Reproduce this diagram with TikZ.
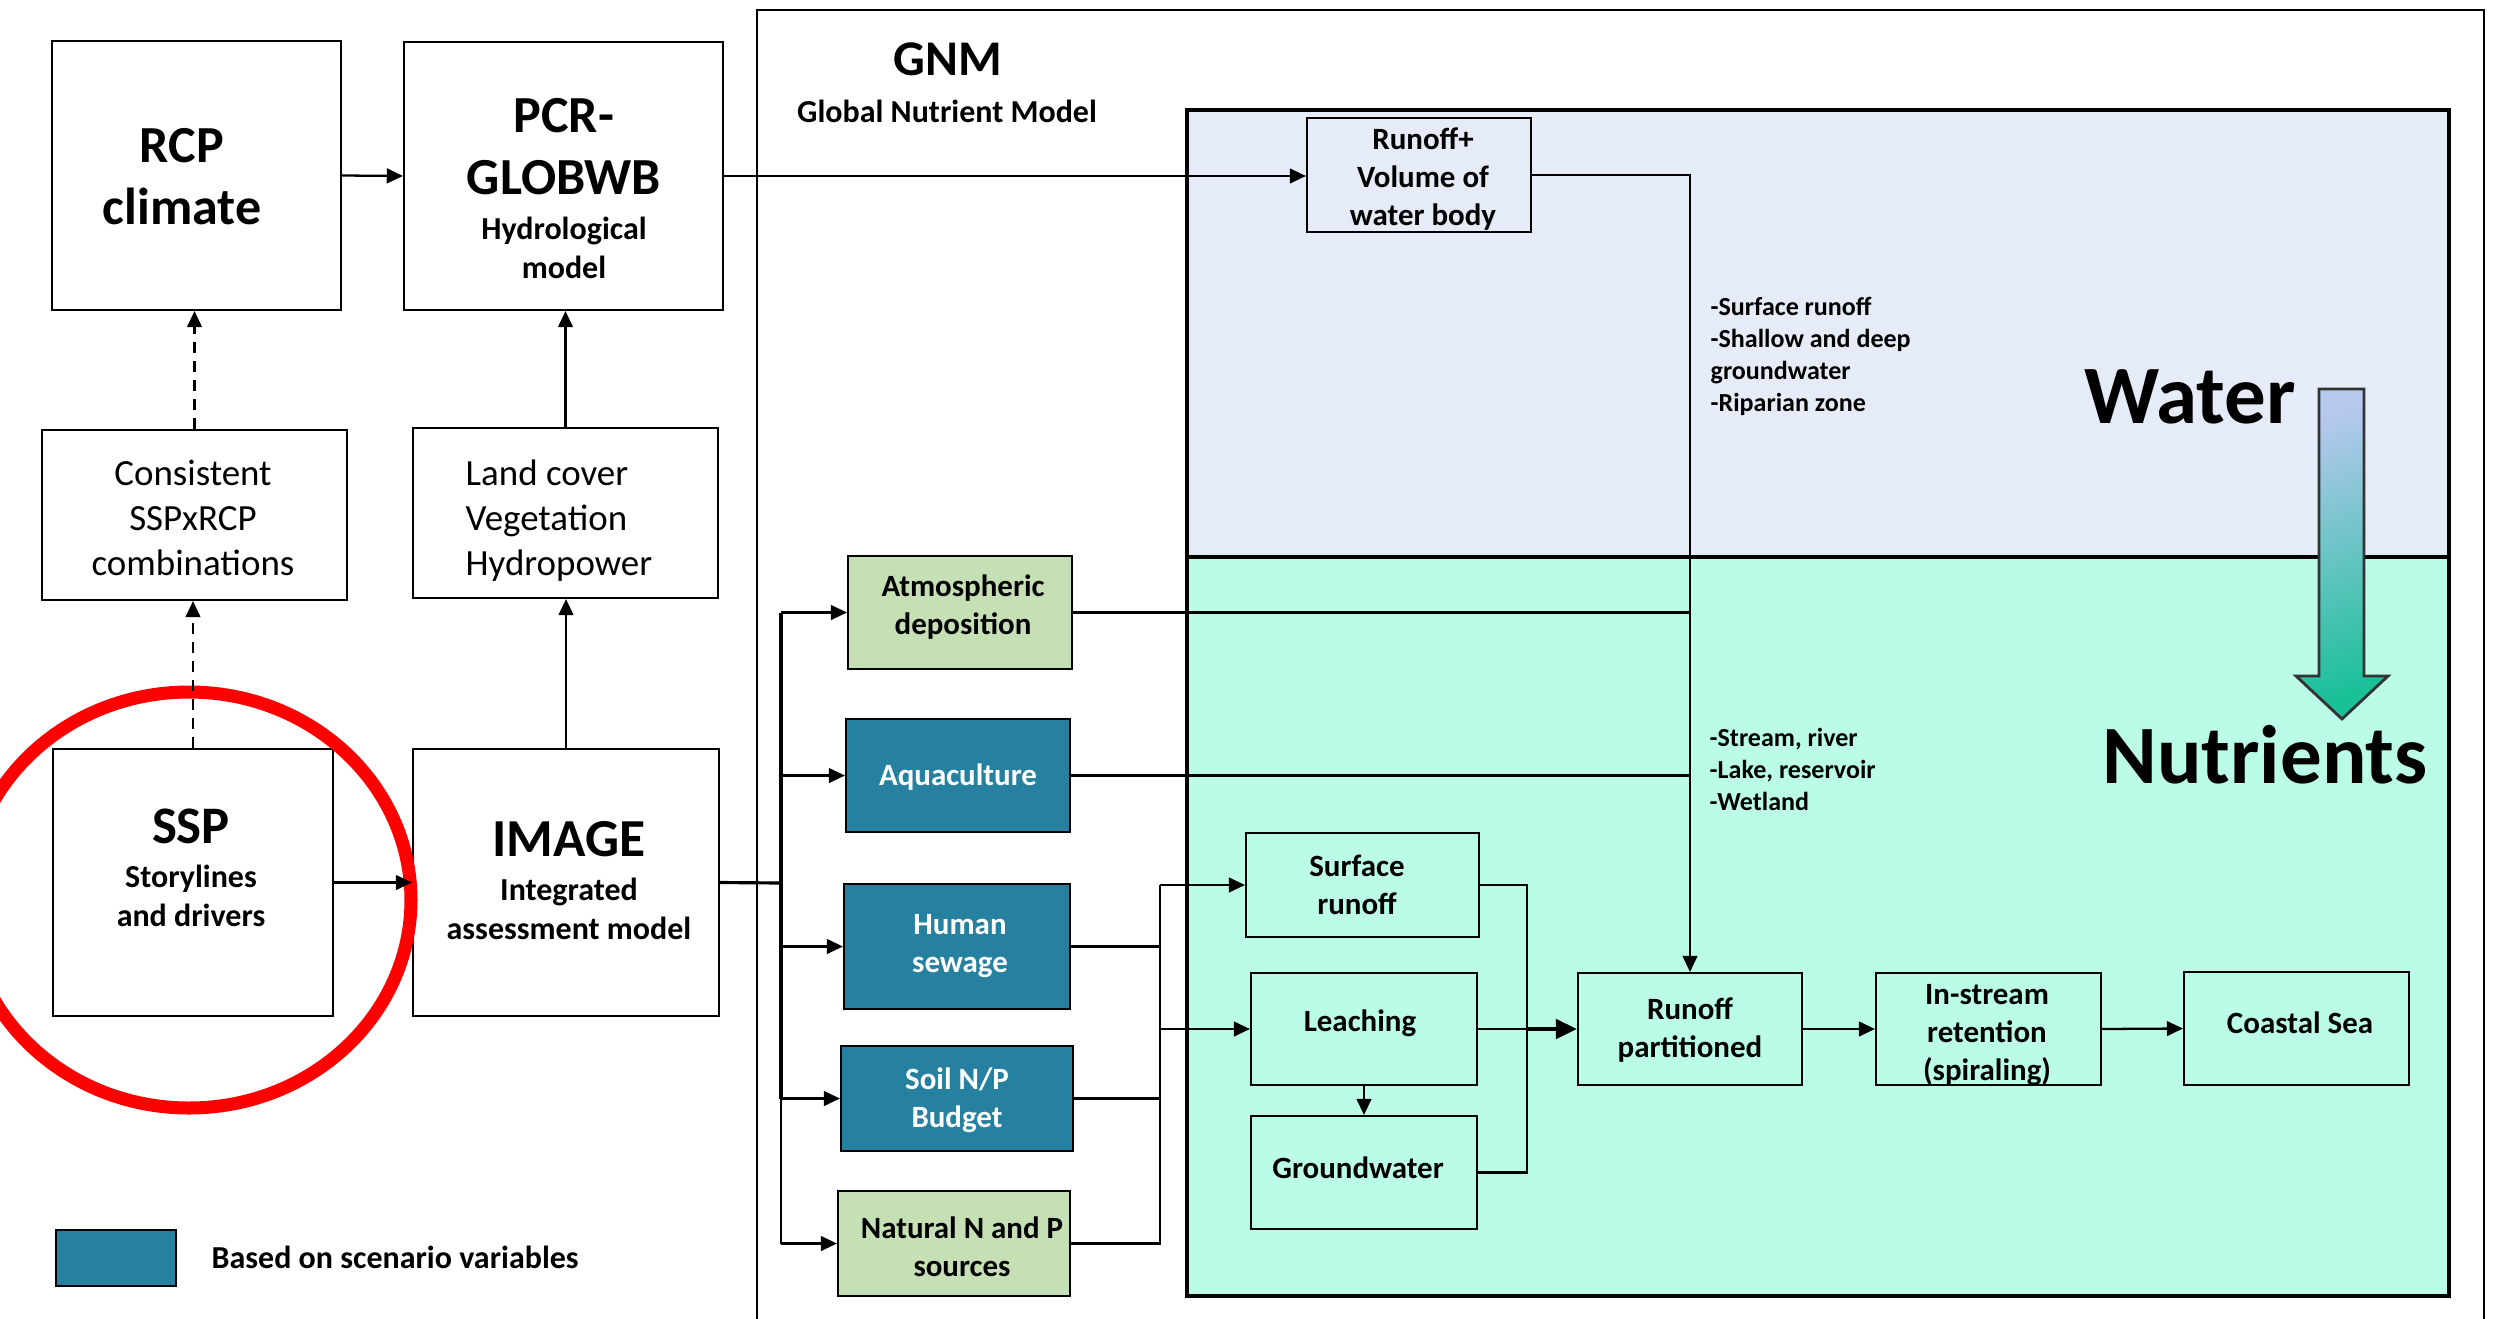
\documentclass[tikz,border=0pt]{standalone}
\usepackage{fontspec}
\setmainfont{Carlito}
\usetikzlibrary{arrows.meta,fit,shadings}
\definecolor{waterbg}{RGB}{230,236,247}
\definecolor{nutbg}{RGB}{186,252,232}
\definecolor{teal}{RGB}{38,129,161}
\definecolor{lgreen}{RGB}{197,224,180}
\definecolor{arrtop}{RGB}{182,200,238}
\definecolor{arrbot}{RGB}{26,192,152}
\begin{document}
\begin{tikzpicture}[x=0.01cm,y=-0.01cm,
  box/.style={draw=black,line width=0.6pt,inner sep=0pt},
  tealbox/.style={box,fill=teal},
  greenbox/.style={box,fill=lgreen},
  region/.style={draw=black,line width=0.9pt},
  conn/.style={line width=0.65pt},
  arr/.style={conn,-{Triangle[length=4.6pt,width=4.2pt]}},
  darr/.style={arr,dash pattern=on 3pt off 2.4pt},
  bigt/.style={font=\bfseries\fontsize{14.8}{17.6}\selectfont,align=center,inner sep=0pt},
  subt/.style={font=\bfseries\fontsize{9.1}{10.9}\selectfont,align=center,inner sep=0pt},
  tb/.style={font=\bfseries\fontsize{8.8}{10.8}\selectfont,align=center,inner sep=0pt},
  regt/.style={font=\fontsize{10.5}{12.8}\selectfont,inner sep=0pt},
  listt/.style={font=\bfseries\fontsize{7.4}{9.1}\selectfont,align=left,inner sep=0pt,anchor=west},
  huget/.style={font=\bfseries\fontsize{23.6}{28}\selectfont,inner sep=0pt,anchor=base}
]
\useasboundingbox (0,0) rectangle (2503,1318);
\clip (0,0) rectangle (2503,1318);

% GNM frame
\draw[line width=0.6pt] (757,1330) -- (757,10) -- (2484,10) -- (2484,1330);
\node[font=\bfseries\fontsize{14.2}{17}\selectfont,inner sep=0pt] (gnm) at (948,59) {GNM};
\node[subt] (gnmsub) at (947,111) {Global Nutrient Model};

% regions
\draw[region,fill=waterbg] (1187,110) rectangle (2449,557);
\draw[region,fill=nutbg] (1187,557) rectangle (2449,1296);
\draw[line width=1.2pt] (1187,557) -- (2449,557);

% left boxes
\node[box,fit={(52,41)(341,310)}] (rcp) {};
\node[bigt] (rcpt) at (182,177) {RCP\\climate};
\node[box,fit={(404,42)(723,310)}] (pcr) {};
\node[bigt] (pcrt) at (564,147) {PCR-\\GLOBWB};
\node[subt] (pcrs) at (564,248) {Hydrological\\model};
\node[box,fit={(42,430)(347,600)}] (cons) {};
\node[regt,align=center] (const) at (193,518) {Consistent\\SSPxRCP\\combinations};
\node[box,fit={(413,428)(718,598)}] (land) {};
\node[regt,align=left,anchor=west] (landt) at (465,521) {Land cover\\Vegetation\\Hydropower};
\node[box,fit={(53,749)(333,1016)}] (ssp) {};
\node[font=\bfseries\fontsize{15}{18}\selectfont,inner sep=0pt] (sspt) at (191,826) {SSP};
\node[subt] (ssps) at (191,896) {Storylines\\and drivers};
\node[box,fit={(413,749)(719,1016)}] (image) {};
\node[font=\bfseries\fontsize{15.2}{18}\selectfont,inner sep=0pt] (imaget) at (569,839) {IMAGE};
\node[subt] (images) at (569,909) {Integrated\\assessment model};

% red circle
\draw[red,line width=3.7pt] (189,900) ellipse [x radius=222, y radius=208];

% legend
\node[tealbox,fit={(56,1230)(176,1286)}] (legbox) {};
\node[subt,anchor=west] (legt) at (211,1257) {Based on scenario variables};

% GNM source boxes
\node[greenbox,fit={(848,556)(1072,669)}] (atmos) {};
\node[tb] (atmost) at (963,607) {Atmospheric\\deposition};
\node[tealbox,fit={(846,719)(1070,832)}] (aqua) {};
\node[tb,text=white] (aquat) at (958,777) {Aquaculture};
\node[tealbox,fit={(844,884)(1070,1009)}] (sewage) {};
\node[tb,text=white] (sewaget) at (960,946) {Human\\sewage};
\node[tealbox,fit={(841,1046)(1073,1151)}] (soil) {};
\node[tb,text=white] (soilt) at (957,1100) {Soil N/P\\Budget};
\node[greenbox,fit={(838,1191)(1070,1296)}] (natural) {};
\node[tb] (naturalt) at (962,1247) {Natural N and P\\sources};

% water / nutrient boxes
\node[box,fit={(1307,118)(1531,232)}] (runoff) {};
\node[tb] (runofft) at (1423,179) {Runoff+\\Volume of\\water body};
\node[box,fit={(1246,833)(1479,937)}] (surface) {};
\node[tb] (surfacet) at (1357,885) {Surface\\runoff};
\node[box,fit={(1251,973)(1477,1085)}] (leaching) {};
\node[tb] (leachingt) at (1360,1023) {Leaching};
\node[box,fit={(1251,1116)(1477,1229)}] (ground) {};
\node[tb] (groundt) at (1358,1168) {Groundwater};
\node[box,fit={(1578,973)(1802,1085)}] (rp) {};
\node[tb] (rpt) at (1690,1030) {Runoff\\partitioned};
\node[box,fit={(1876,973)(2101,1085)}] (instream) {};
\node[tb] (instreamt) at (1987,1035) {In-stream\\retention\\(spiraling)};
\node[box,fit={(2184,972)(2409,1085)}] (coastal) {};
\node[tb] (coastalt) at (2300,1023) {Coastal Sea};

% lists and big labels
\node[listt] (wlist) at (1710,356) {-Surface runoff\\-Shallow and deep\\groundwater\\-Riparian zone};
\node[listt] (nlist) at (1709,769) {-Stream, river\\-Lake, reservoir\\-Wetland};
\node[huget] (watert) at (2190,423) {Water};
\node[huget] (nutt) at (2265,783) {Nutrients};

% gradient arrow
\draw[draw=black!80,line width=0.8pt,top color=arrtop,bottom color=arrbot,shading angle=20]
  (2319,389) -- (2364,389) -- (2364,676) -- (2388,676) -- (2342,719) -- (2296,676) -- (2319,676) -- cycle;

% left connectors
\draw[arr] (rcp.east) -- (pcr.west);
\draw[arr] (ssp.east) -- (image.west);
\draw[darr] (cons.north) -- (cons.north |- rcp.south);
\draw[darr] (ssp.north) -- (ssp.north |- cons.south);
\draw[arr] (land.north) -- (land.north |- pcr.south);
\draw[arr] (image.north) -- (image.north |- land.south);
\draw[arr] (pcr.east) -- (pcr.east -| runoff.west);

% bus from IMAGE
\coordinate (bus) at (781,883);
\draw[conn,line width=0.9pt] (image.east) -- (bus);
\draw[conn,line width=0.9pt] (bus |- atmos.west) -- (bus |- soil.west);
\draw[conn] (bus |- soil.west) -- (bus |- natural.west);
\draw[arr] (bus |- atmos.west) -- (atmos.west);
\draw[arr] (bus |- aqua.west) -- (aqua.west);
\draw[arr] (bus |- sewage.west) -- (sewage.west);
\draw[arr] (bus |- soil.west) -- (soil.west);
\draw[arr] (bus |- natural.west) -- (natural.west);

% connectors into runoff partitioned
\draw[arr] (runoff.east) -- (runoff.east -| rp.north) -- (rp.north);
\draw[conn] (atmos.east) -- (atmos.east -| rp.north);
\draw[conn] (aqua.east) -- (aqua.east -| rp.north);

% collector to surface runoff / leaching
\coordinate (cl) at (1160,0);
\draw[conn] (sewage.east) -- (sewage.east -| cl);
\draw[conn] (soil.east) -- (soil.east -| cl);
\draw[conn] (natural.east) -- (natural.east -| cl) -- (surface.west -| cl);
\draw[arr] (surface.west -| cl) -- (surface.west);
\draw[arr] (leaching.west -| cl) -- (leaching.west);
\draw[arr] (leaching.south) -- (ground.north);

% collector to runoff partitioned
\coordinate (cr) at (1527,0);
\draw[conn] (surface.east) -- (surface.east -| cr) -- (ground.east -| cr) -- (ground.east);
\draw[conn] (leaching.east) -- (leaching.east -| cr);
\draw[conn,line width=1.1pt,-{Triangle[length=6pt,width=5.5pt]}] (leaching.east -| cr) -- (rp.west);
\draw[arr] (rp.east) -- (instream.west);
\draw[arr] (instream.east) -- (coastal.west);
\end{tikzpicture}
\end{document}
